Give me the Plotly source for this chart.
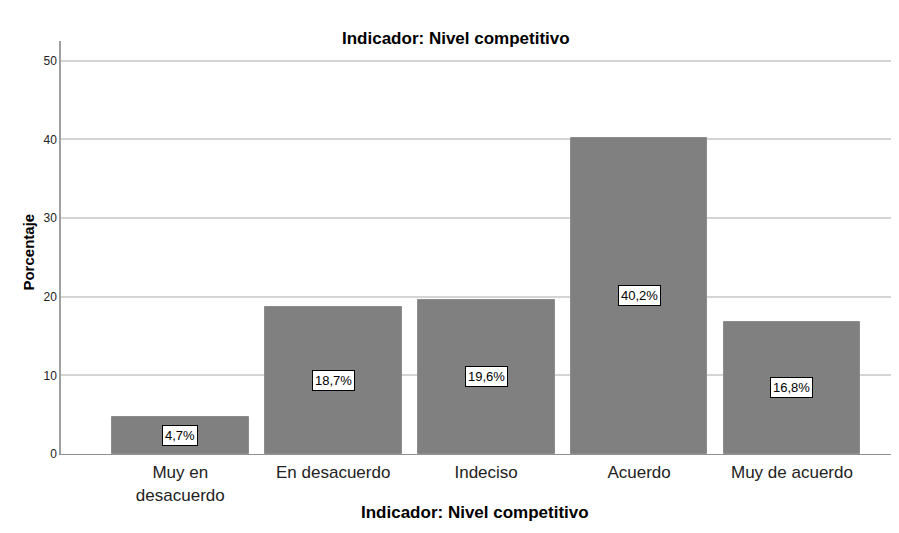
import plotly.graph_objects as go

categories = ["Muy en<br>desacuerdo", "En desacuerdo", "Indeciso", "Acuerdo", "Muy de acuerdo"]
values = [4.7, 18.7, 19.6, 40.2, 16.8]
labels = ["4,7%", "18,7%", "19,6%", "40,2%", "16,8%"]
y_ticks = [0, 10, 20, 30, 40, 50]

font_family = "Liberation Sans, Arial, sans-serif"
xpos = list(range(len(categories)))

fig = go.Figure()
fig.add_trace(go.Bar(
    x=xpos, y=values, width=0.895,
    marker=dict(color="#808080", line=dict(color="#8c8c8c", width=1)),
    hoverinfo="skip",
))

for xi, v, lab in zip(xpos, values, labels):
    fig.add_annotation(
        x=xi, y=v / 2, xref="x", yref="y", text=lab, showarrow=False,
        font=dict(family=font_family, size=13, color="black"),
        bgcolor="white", bordercolor="black", borderwidth=1, borderpad=2,
    )

fig.add_annotation(
    x=0.4714, y=1.034, xref="paper", yref="paper", text="<b>Indicador: Nivel competitivo</b>",
    showarrow=False, font=dict(family=font_family, size=17, color="black"),
)
fig.add_annotation(
    x=0.494, y=-0.1695, xref="paper", yref="paper", text="<b>Indicador: Nivel competitivo</b>",
    showarrow=False, font=dict(family=font_family, size=17, color="black"),
)
fig.add_annotation(
    x=-0.0513, y=0.489, xref="paper", yref="paper", text="<b>Porcentaje</b>",
    showarrow=False, textangle=-90, font=dict(family=font_family, size=15, color="black"),
)

fig.update_layout(
    width=891, height=525,
    margin=dict(l=53, r=0, t=33, b=79),
    paper_bgcolor="white", plot_bgcolor="white",
    showlegend=False,
    bargap=0,
    font=dict(family=font_family, color="black"),
)
fig.update_xaxes(
    range=[-0.78, 4.70],
    tickmode="array", tickvals=xpos, ticktext=categories,
    tickfont=dict(family=font_family, size=17, color="#222222"),
    ticklabelstandoff=3,
    showline=True, linecolor="#909090", linewidth=1,
    showgrid=False, ticks="", zeroline=False,
)
fig.update_yaxes(
    range=[0, 52.5],
    tickmode="array", tickvals=y_ticks, ticktext=[str(t) for t in y_ticks],
    tickfont=dict(family=font_family, size=12, color="#222222"),
    showline=True, linecolor="#a0a0a0", linewidth=1.5,
    showgrid=True, gridcolor="#d4d4d4", gridwidth=1.5,
    ticks="", ticklen=0, zeroline=False,
)

fig.write_html("out.html")
